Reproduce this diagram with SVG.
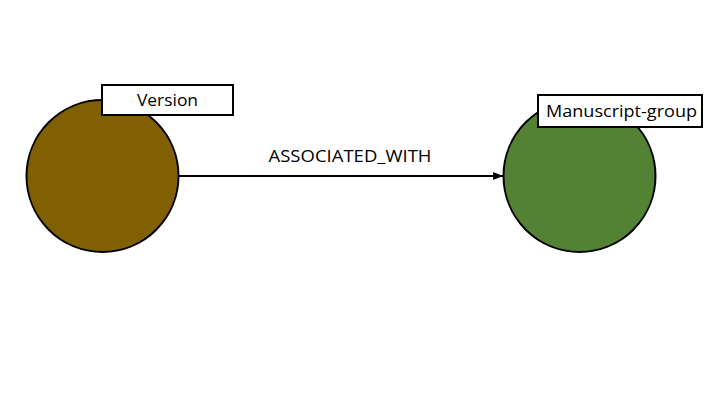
<svg xmlns="http://www.w3.org/2000/svg" width="720" height="405" viewBox="0 0 720 405">
<defs>
<style>
.node circle{stroke:#000;stroke-width:2}
.lbl rect{fill:#fff;stroke:#000;stroke-width:2}
text{font-family:"Open Sans","Liberation Sans",sans-serif;font-size:17px;fill:#000}
</style>
<marker id="arr" markerWidth="10" markerHeight="8" refX="10" refY="4" orient="auto" markerUnits="userSpaceOnUse">
<path d="M0,0 L10,4 L0,8 Z" fill="#000"/>
</marker>
</defs>
<rect width="720" height="405" fill="#fff"/>
<g id="connectors">
<line x1="178" y1="176" x2="503" y2="176" stroke="#000" stroke-width="2" marker-end="url(#arr)"/>
<text x="350" y="162" text-anchor="middle" textLength="163" lengthAdjust="spacingAndGlyphs">ASSOCIATED_WITH</text>
</g>
<g id="node-version" class="node">
<circle cx="102.5" cy="176" r="76" fill="#806000"/>
<g class="lbl">
<rect x="102" y="85" width="131" height="30"/>
<text x="167.5" y="106" text-anchor="middle" textLength="61" lengthAdjust="spacingAndGlyphs">Version</text>
</g>
</g>
<g id="node-manuscript-group" class="node">
<circle cx="579.5" cy="176" r="76" fill="#548235"/>
<g class="lbl">
<rect x="538" y="95" width="164" height="32"/>
<text x="621.5" y="117" text-anchor="middle" textLength="151" lengthAdjust="spacingAndGlyphs">Manuscript-group</text>
</g>
</g>
</svg>
